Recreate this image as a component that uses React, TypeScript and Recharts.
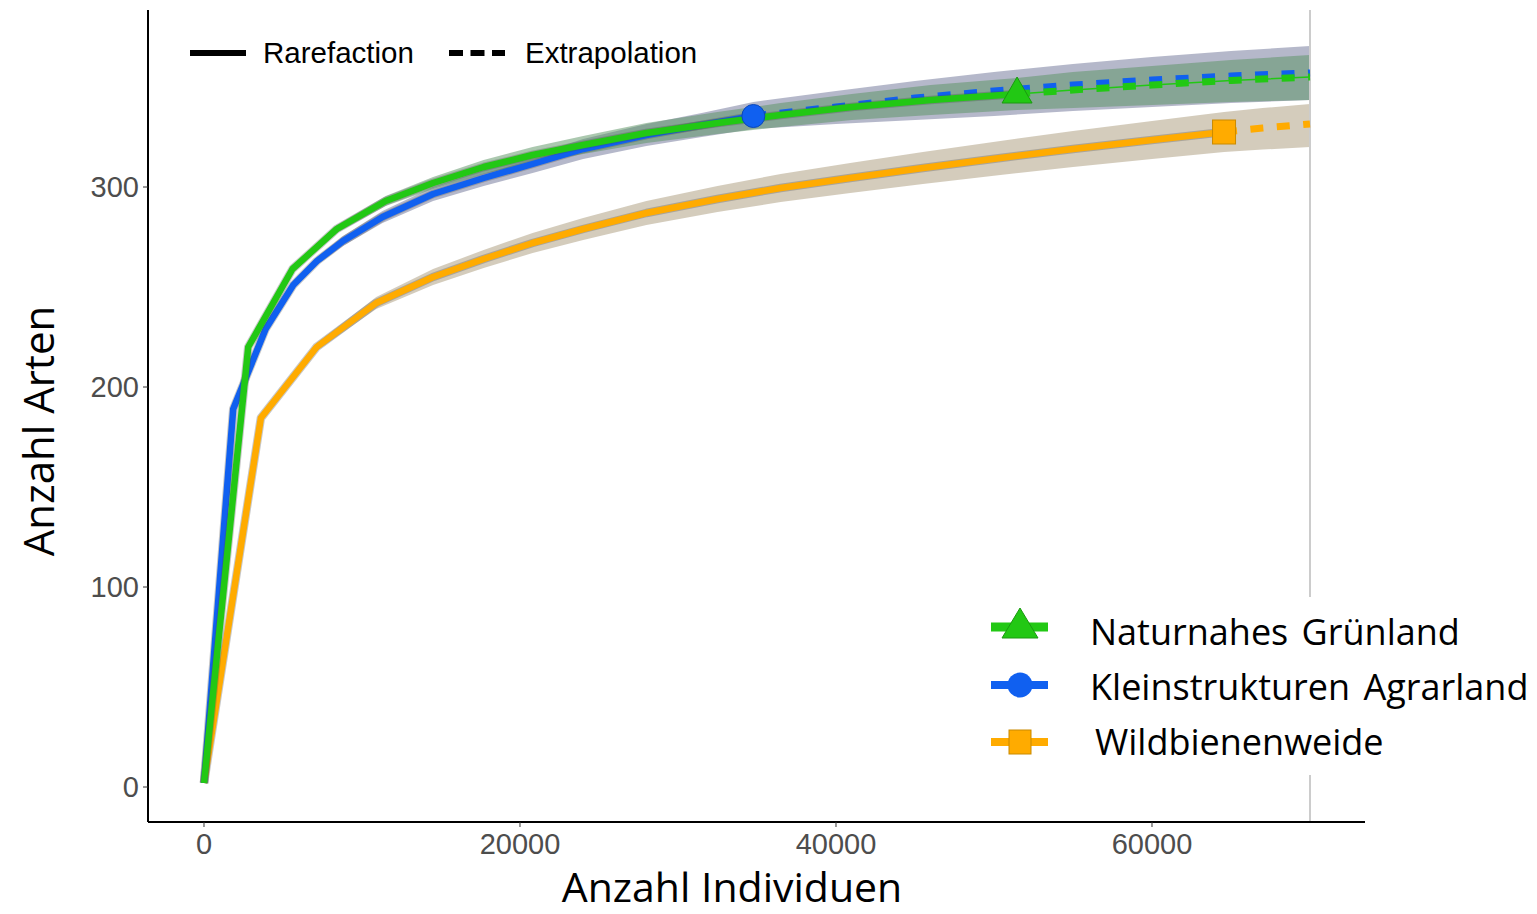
import React from 'react';
import { ComposedChart, Line, Area, Scatter, XAxis, YAxis, ReferenceLine } from 'recharts';

const GREEN = '#22c814';
const BLUE = '#1060f0';
const ORANGE = '#ffab00';

// Naturnahes Grünland (rarefaction + extrapolation)
const gruenX = [0, 2800, 5600, 8400, 11500, 14500, 17700, 20800, 24000, 28000, 32500, 36500, 41000, 46000, 51460];
const gruenY = [2, 220, 259, 279, 293, 302, 310, 316, 321, 327, 332, 336, 340, 343.5, 346.5];
const gruenLo = [2, 219, 257.5, 277, 290.5, 299, 306.5, 312, 316.5, 322, 326.5, 330, 333.5, 336, 338.5];
const gruenHi = [2, 221, 260.5, 281, 295.5, 305, 313.5, 320, 325.5, 332, 337.5, 342, 346.5, 351, 354.5];
const gruenExX = [51460, 55000, 60000, 65000, 70000];
const gruenExY = [346.5, 348.5, 351, 353.3, 355];
const gruenExLo = [338.5, 339.5, 341, 342.5, 343.5];
const gruenExHi = [354.5, 357.5, 360.5, 363.5, 366];

// Kleinstrukturen Agrarland
const kleinX = [0, 1850, 3900, 5650, 7150, 8800, 11300, 14500, 17700, 20800, 24000, 28000, 31500, 34770];
const kleinY = [2, 189, 229, 251, 263, 273, 285, 296.5, 304.5, 311.5, 319, 326, 331, 335.5];
const kleinLo = [2, 188, 227.5, 249, 261, 270.5, 282, 293, 300.5, 307, 314, 320.5, 325, 329];
const kleinHi = [2, 190, 230.5, 253, 265, 275.5, 288, 300, 308.5, 316, 324, 331.5, 337, 342.5];
const kleinExX = [34770, 40000, 45000, 50000, 55000, 60000, 65000, 70000];
const kleinExY = [335.5, 340, 344.5, 348, 351, 353.5, 355.5, 357];
const kleinExLo = [329, 331.5, 333.5, 335.5, 338, 340, 342, 343.5];
const kleinExHi = [342.5, 348, 353, 357.5, 361.5, 365, 368, 370.5];

// Wildbienenweide
const wildX = [0, 3600, 7130, 10900, 14500, 17700, 20800, 24000, 28000, 32500, 36500, 40900, 45500, 50400, 55000, 60000, 64560];
const wildY = [2, 184.5, 220, 242, 255, 264, 272, 279, 287, 294, 299.5, 304.5, 309.5, 314.5, 319, 323.5, 327.5];
const wildLo = [2, 183.5, 218, 239, 251, 259.5, 267, 273.5, 281, 287.5, 292.5, 297, 301.5, 306, 310, 314, 317.5];
const wildHi = [2, 185.5, 222, 245, 259, 268.5, 277, 284.5, 293, 300.5, 306.5, 312, 317.5, 323, 328, 333, 337.5];
const wildExX = [64560, 67000, 70000];
const wildExY = [327.5, 329.5, 331.5];
const wildExLo = [317.5, 318.7, 320];
const wildExHi = [337.5, 339.5, 341.5];

const xTicks = [0, 20000, 40000, 60000];
const yTicks = [0, 100, 200, 300];

const rows = (xs: number[], ys: number[], lo: number[], hi: number[]) =>
  xs.map((x, i) => ({ x, y: ys[i], band: [lo[i], hi[i]] }));

const gruenRare = rows(gruenX, gruenY, gruenLo, gruenHi);
const gruenExtra = rows(gruenExX, gruenExY, gruenExLo, gruenExHi);
const kleinRare = rows(kleinX, kleinY, kleinLo, kleinHi);
const kleinExtra = rows(kleinExX, kleinExY, kleinExLo, kleinExHi);
const wildRare = rows(wildX, wildY, wildLo, wildHi);
const wildExtra = rows(wildExX, wildExY, wildExLo, wildExHi);

const gruenBand = [...gruenRare, ...gruenExtra.slice(1)];
const kleinBand = [...kleinRare, ...kleinExtra.slice(1)];
const wildBand = [...wildRare, ...wildExtra.slice(1)];

const gruenRef = [gruenRare[gruenRare.length - 1]];
const kleinRef = [kleinRare[kleinRare.length - 1]];
const wildRef = [wildRare[wildRare.length - 1]];

const TriangleShape = (p: any) => (
  <polygon
    points={`${p.cx},${p.cy - 17} ${p.cx - 15},${p.cy + 9} ${p.cx + 15},${p.cy + 9}`}
    fill={GREEN}
    stroke="#1a9a10"
    strokeWidth={1}
  />
);
const CircleShape = (p: any) => <circle cx={p.cx} cy={p.cy} r={11.5} fill={BLUE} stroke="#0b48b8" strokeWidth={1} />;
const SquareShape = (p: any) => (
  <rect x={p.cx - 11.5} y={p.cy - 12} width={23} height={24} fill={ORANGE} stroke="#c98a00" strokeWidth={1} />
);

const tickStyle = { fill: '#4d4d4d', fontSize: 29, fontFamily: '"Liberation Sans", Arial, sans-serif' };
const titleFont = '"Open Sans", "Noto Sans", sans-serif';
const legendFont = '"Liberation Sans", Arial, sans-serif';

const App: React.FC = () => {
  const rareLine = (data: any[], color: string, key: string) => [
    <Line key={key + 'u'} data={data} dataKey="y" type="linear" stroke="#4a4a4a" strokeOpacity={0.3}
      strokeWidth={8.5} dot={false} isAnimationActive={false} strokeLinejoin="round" />,
    <Line key={key} data={data} dataKey="y" type="linear" stroke={color} strokeWidth={6.5}
      dot={false} isAnimationActive={false} strokeLinejoin="round" />,
  ];
  const extraLine = (data: any[], color: string, key: string) => (
    <Line key={key} data={data} dataKey="y" type="linear" stroke={color} strokeWidth={7}
      strokeDasharray="13 13.5" dot={false} isAnimationActive={false} />
  );

  return (
    <div style={{ position: 'absolute', left: 0, top: 0, width: 1537, height: 914, background: '#fff' }}>
      <ComposedChart width={1537} height={914} margin={{ top: 10, right: 172, left: 48, bottom: 32 }}>
        <XAxis
          dataKey="x"
          type="number"
          domain={[-3544, 73481]}
          ticks={xTicks}
          allowDataOverflow
          height={60}
          tickSize={5}
          tickMargin={6}
          tick={tickStyle}
          axisLine={{ stroke: '#000', strokeWidth: 2 }}
          tickLine={{ stroke: '#333' }}
        />
        <YAxis
          type="number"
          domain={[-17.5, 388.5]}
          ticks={yTicks}
          allowDataOverflow
          width={100}
          tickSize={5}
          tickMargin={4}
          tick={tickStyle}
          axisLine={{ stroke: '#000', strokeWidth: 2 }}
          tickLine={{ stroke: '#333' }}
        />
        <ReferenceLine x={70000} stroke="#cccccc" strokeWidth={2} />

        <Area data={wildBand} dataKey="band" type="linear" stroke="none" fill="#a99979" fillOpacity={0.5} isAnimationActive={false} />
        <Area data={kleinBand} dataKey="band" type="linear" stroke="none" fill="#6c7296" fillOpacity={0.5} isAnimationActive={false} />
        <Area data={gruenBand} dataKey="band" type="linear" stroke="none" fill="#589160" fillOpacity={0.5} isAnimationActive={false} />

        {rareLine(wildRare, ORANGE, 'wr')}
        {extraLine(wildExtra, ORANGE, 'we')}
        <Scatter data={wildRef} dataKey="y" shape={SquareShape} isAnimationActive={false} />

        {rareLine(kleinRare, BLUE, 'kr')}
        {extraLine(kleinExtra, BLUE, 'ke')}
        <Scatter data={kleinRef} dataKey="y" shape={CircleShape} isAnimationActive={false} />

        {rareLine(gruenRare, GREEN, 'gr')}
        {extraLine(gruenExtra, GREEN, 'ge')}
        <Line data={gruenExtra} dataKey="y" type="linear" stroke={GREEN} strokeWidth={1.5} dot={false} isAnimationActive={false} />
        <Scatter data={gruenRef} dataKey="y" shape={TriangleShape} isAnimationActive={false} />
      </ComposedChart>

      <svg width={1537} height={914} style={{ position: 'absolute', left: 0, top: 0, pointerEvents: 'none' }}>
        {/* line type legend */}
        <line x1={190} y1={53} x2={246} y2={53} stroke="#000" strokeWidth={6} />
        <text x={263} y={63} fontSize={29.5} fontFamily={legendFont} fill="#000">Rarefaction</text>
        <line x1={449} y1={53} x2={505} y2={53} stroke="#000" strokeWidth={6} strokeDasharray="14 7.5" />
        <text x={525} y={63} fontSize={29.5} fontFamily={legendFont} fill="#000">Extrapolation</text>

        {/* axis titles */}
        <text x={732} y={902} textAnchor="middle" fontSize={41} fontFamily={titleFont} fill="#000">Anzahl Individuen</text>
        <text x={54} y={431} textAnchor="middle" fontSize={42} fontFamily={titleFont} fill="#000"
          transform="rotate(-90, 54, 431)">Anzahl Arten</text>

        {/* group legend */}
        <rect x={975} y={597} width={562} height={178} fill="#fff" />
        <line x1={991} y1={627} x2={1048} y2={627} stroke={GREEN} strokeWidth={9} />
        <polygon points="1020,608 1002,638 1038,638" fill={GREEN} stroke="#1a9a10" strokeWidth={1} />
        <text x={1090} y={645} fontSize={36} wordSpacing={4} fontFamily={titleFont} fill="#000">Naturnahes Grünland</text>

        <line x1={991} y1={685} x2={1048} y2={685} stroke={BLUE} strokeWidth={8} />
        <circle cx={1020} cy={685} r={12.5} fill={BLUE} />
        <text x={1090} y={700} fontSize={36} wordSpacing={4} fontFamily={titleFont} fill="#000">Kleinstrukturen Agrarland</text>

        <line x1={991} y1={742} x2={1048} y2={742} stroke={ORANGE} strokeWidth={8} />
        <rect x={1009} y={730} width={22} height={24} fill={ORANGE} stroke="#c98a00" strokeWidth={1} />
        <text x={1095} y={755} fontSize={36} fontFamily={titleFont} fill="#000">Wildbienenweide</text>
      </svg>
    </div>
  );
};

export default App;
